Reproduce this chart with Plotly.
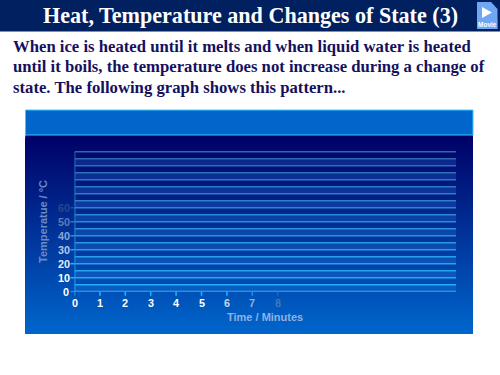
import plotly.graph_objects as go

title = "Heat, Temperature and Changes of State (3)"
body_lines = [
    "When ice is heated until it melts and when liquid water is heated",
    "until it boils, the temperature does not increase during a change of",
    "state. The following graph shows this pattern...",
]
x_ticks = [0, 1, 2, 3, 4, 5, 6, 7, 8]
x_tick_colors = ["#ffffff"] * 6 + ["#c4d6ee", "#8fb0dc", "#3f78c0"]
x_mark_colors = ["#22b8f8"] * 7 + ["#1d8fe0", "#1a6cc8"]
y_ticks = [0, 10, 20, 30, 40, 50, 60]
y_tick_colors = ["#ffffff", "#ffffff", "#e4ecf7", "#b6c9e6", "#8aa6d2", "#5a7cb8", "#24488f"]
y_mark_colors = ["#22b8f8", "#22b8f8", "#22b8f8", "#22a8f0", "#1f98e6", "#1b80d0", "#14549f"]
grid_values = list(range(0, 105, 5))
x_title = "Time / Minutes"
y_title = "Temperatue / °C"

W, H = 500, 375
def px(v): return v / W
def py(v): return 1 - v / H

def lerp(a, b, t):
    return "#%02x%02x%02x" % tuple(round(a[i] + (b[i] - a[i]) * t) for i in range(3))

shapes = []
def rect(x0, y0, x1, y1, fill, line=None, lw=0):
    shapes.append(dict(type="rect", xref="paper", yref="paper", x0=px(x0), x1=px(x1), y0=py(y1), y1=py(y0),
                       fillcolor=fill, line=dict(color=line or fill, width=lw), layer="below"))

rect(0, 0, 500, 31.5, "#002060")
top, bot = 135, 334
for y in range(top, bot):
    rect(25.5, y, 473, bot, lerp((0, 0, 102), (0, 102, 204), (y - top) / (bot - top - 1)))
rect(25.5, 110, 473, 135, "#0066cc", "#33ccff", 1)

fig = go.Figure()
PL, PR, PB, PT = 74.5, 456.0, 291.7, 150.7
xmax = (PR - PL) / 25.4
ymax = (PB - PT) / 14 * 10

# alternating lighter bands between the grid lines
for lo, hi in zip(grid_values[0::2], grid_values[1::2]):
    fig.add_trace(go.Scatter(x=[0, xmax, xmax, 0], y=[lo, lo, hi, hi], mode="lines", fill="toself",
                             fillcolor="rgba(50,140,235,0.22)", line=dict(width=0),
                             hoverinfo="skip", showlegend=False))

for v in grid_values:
    t = v / 100
    c = lerp((34, 178, 248), (52, 100, 172), t ** 1.1)
    fig.add_trace(go.Scatter(x=[0, xmax], y=[v, v], mode="lines", line=dict(color=c, width=1.5 if v else 2),
                             hoverinfo="skip", showlegend=False))
for lo, hi in zip(grid_values[:-1], grid_values[1:]):
    c = lerp((34, 178, 248), (40, 110, 190), (lo / 100) ** 0.8)
    fig.add_trace(go.Scatter(x=[0, 0], y=[lo, hi], mode="lines", line=dict(color=c, width=1.8),
                             hoverinfo="skip", showlegend=False))

def fx(v): return (PL + v * 25.4)
def fy(v): return (PB - v * 1.4)
for v, c in zip(x_ticks, x_mark_colors):
    shapes.append(dict(type="line", xref="x", yref="paper", x0=v, x1=v, y0=py(PB), y1=py(PB + 4),
                       line=dict(color=c, width=1.5)))
for v, c in zip(y_ticks, y_mark_colors):
    shapes.append(dict(type="line", xref="paper", yref="y", x0=px(PL - 4), x1=px(PL), y0=v, y1=v,
                       line=dict(color=c, width=1.5)))

annots = []
def text(x, y, s, size, color, family="Liberation Sans", bold=True, anchor="center", angle=0):
    annots.append(dict(xref="paper", yref="paper", x=px(x), y=py(y), text=f"<b>{s}</b>" if bold else s,
                       showarrow=False, xanchor=anchor, yanchor="middle", align="left", textangle=angle,
                       font=dict(family=family, size=size, color=color)))

text(250, 16, title, 22.1, "#ffffff", "Liberation Serif")
for ln, y in zip(body_lines, [47, 67, 87]):
    text(10.5, y, ln, 16.7, "#15105e", "Liberation Serif", anchor="left")

for v, c in zip(x_ticks, x_tick_colors):
    text(fx(v), 303, str(v), 10.8, c)
for v, c in zip(y_ticks, y_tick_colors):
    text(65.7 if v == 0 else 63.5, fy(v), str(v), 10.8, c)
text(265, 317, x_title, 11, "#8eb2e0")
text(43, 222, y_title, 11, "#6a8cc6", angle=-90)

shapes.append(dict(type="path", xref="paper", yref="paper", fillcolor="#6ea8f5", line=dict(width=0),
                   path=f"M {px(477)} {py(2)} L {px(491)} {py(2)} L {px(497.5)} {py(9)} L {px(497.5)} {py(29)} L {px(477)} {py(29)} Z"))
shapes.append(dict(type="path", xref="paper", yref="paper", fillcolor="#ffffff", line=dict(width=0),
                   path=f"M {px(482)} {py(7)} L {px(492)} {py(12.5)} L {px(482)} {py(18)} Z"))
rect(477, 20, 497.5, 29, "#2f7fe8")
text(487.2, 24.5, "Movie", 6.5, "#ffffff")

fig.update_layout(
    width=W, height=H, margin=dict(l=0, r=0, t=0, b=0), paper_bgcolor="#ffffff", plot_bgcolor="rgba(0,0,0,0)",
    xaxis=dict(domain=[px(PL), px(PR)], range=[0, xmax], visible=False, fixedrange=True),
    yaxis=dict(domain=[py(PB), py(PT)], range=[0, ymax], visible=False, fixedrange=True),
    shapes=shapes, annotations=annots, showlegend=False,
)
fig.write_html("out.html", post_script="document.body.style.margin='0';document.body.style.overflow='hidden';",
               config=dict(displayModeBar=False))
